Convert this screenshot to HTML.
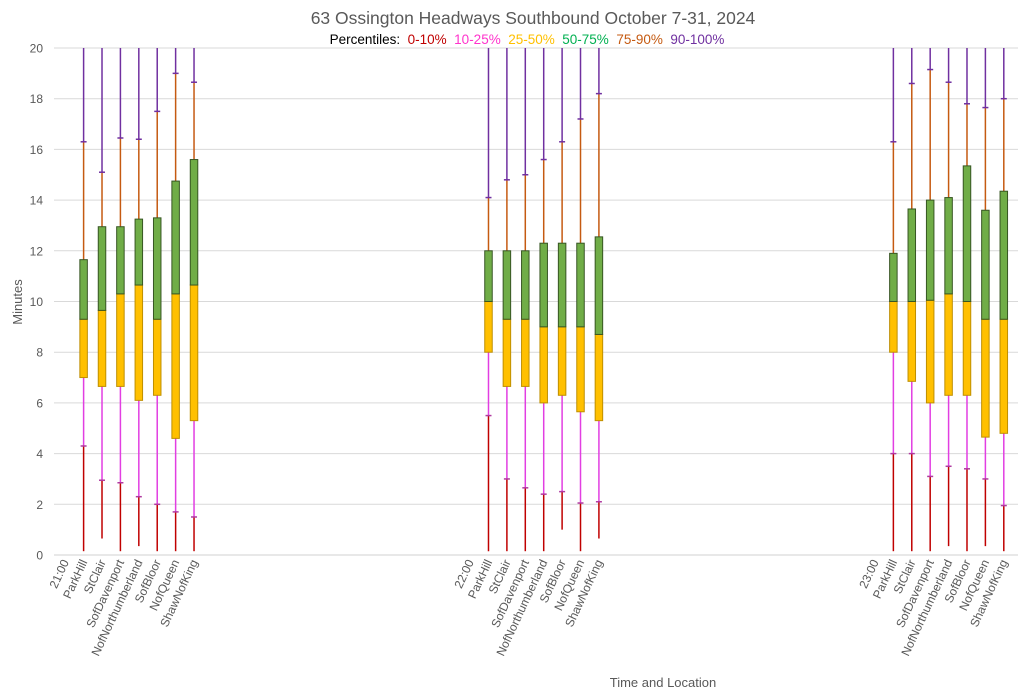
<!DOCTYPE html>
<html><head><meta charset="utf-8">
<style>
body{margin:0;background:#fff;}
svg{display:block;font-family:"Liberation Sans",Calibri,sans-serif;}
</style></head>
<body>
<svg id="chart" width="1024" height="697" viewBox="0 0 1024 697">
<text x="533" y="24" text-anchor="middle" font-size="17.5" fill="#595959">63 Ossington Headways Southbound October 7-31, 2024</text>
<text x="527" y="44" text-anchor="middle" font-size="13.5">
<tspan fill="#000">Percentiles:&#160; </tspan><tspan fill="#c00000">0-10%</tspan><tspan fill="#ff33cc">&#160; 10-25%</tspan><tspan fill="#ffc000">&#160; 25-50%</tspan><tspan fill="#00b050">&#160; 50-75%</tspan><tspan fill="#c55a11">&#160; 75-90%</tspan><tspan fill="#7030a0">&#160; 90-100%</tspan></text>
<text transform="translate(22,302) rotate(-90)" text-anchor="middle" font-size="13" fill="#595959">Minutes</text>
<text x="663" y="687" text-anchor="middle" font-size="13" fill="#595959">Time and Location</text>
<g id="grid"></g><g id="marks"></g><g id="labels"></g>
</svg>
<script>
const stops = ["ParkHill","StClair","SofDavenport","NofNorthumberland","SofBloor","NofQueen","ShawNofKing"];
const hours = ["21:00","22:00","23:00"];
const hourIndex = [0,22,44];
const yTicks = [0,2,4,6,8,10,12,14,16,18,20];
const p0 = [0.15,0.65,0.15,0.35,0.15,0.15,0.15, 0.15,0.15,0.15,0.15,1.0,0.15,0.65, 0.15,0.15,0.15,0.35,0.15,0.35,0.15];
const p10 = [4.3,2.95,2.85,2.3,2.0,1.7,1.5, 5.5,3.0,2.65,2.4,2.5,2.05,2.1, 4.0,4.0,3.1,3.5,3.4,3.0,1.95];
const p25 = [7.0,6.65,6.65,6.1,6.3,4.6,5.3, 8.0,6.65,6.65,6.0,6.3,5.65,5.3, 8.0,6.85,6.0,6.3,6.3,4.65,4.8];
const p50 = [9.3,9.65,10.3,10.65,9.3,10.3,10.65, 10.0,9.3,9.3,9.0,9.0,9.0,8.7, 10.0,10.0,10.05,10.3,10.0,9.3,9.3];
const p75 = [11.65,12.95,12.95,13.25,13.3,14.75,15.6, 12.0,12.0,12.0,12.3,12.3,12.3,12.55, 11.9,13.65,14.0,14.1,15.35,13.6,14.35];
const p90 = [16.3,15.1,16.45,16.4,17.5,19.0,18.65, 14.1,14.8,15.0,15.6,16.3,17.2,18.2, 16.3,18.6,19.15,18.65,17.8,17.65,18.0];
const p100 = [20,20,20,20,20,20,20, 20,20,20,20,20,20,20, 20,20,20,20,20,20,20];

const NS="http://www.w3.org/2000/svg";
const nCat=52, x0=56, x1=1013, yBase=555, yTopPx=48, yMax=20;
const band=(x1-x0)/nCat;
function xPos(i){return x0+band*(i+0.5);}
function yPos(v){return yBase-(Math.min(v,yMax)/yMax)*(yBase-yTopPx);}
function mk(tag,attrs,parent){const e=document.createElementNS(NS,tag);for(const k in attrs)e.setAttribute(k,attrs[k]);parent.appendChild(e);return e;}
const grid=document.getElementById('grid'),marks=document.getElementById('marks'),labels=document.getElementById('labels');

yTicks.forEach(t=>{
  const l=mk('line',{x1:x0-2,x2:1018,y1:yPos(t),y2:yPos(t),stroke:t===0?'#d0d0d0':'#d9d9d9','stroke-width':1},grid);
  
  
  const tx=mk('text',{x:43,y:yPos(t)+4.5,'text-anchor':'end','font-size':12,fill:'#595959'},labels);
  tx.textContent=t;
  
  
});

function catLabel(i,txt,name){
  const x=xPos(i)+4,y=562;
  const t=mk('text',{transform:`translate(${x},${y}) rotate(-65)`,'text-anchor':'end','font-size':12,fill:'#595959'},labels);
  t.textContent=txt;
  
  
}

hours.forEach((h,g)=>{
  const base=hourIndex[g];
  catLabel(base,h,'x-label-hour');
  stops.forEach((s,j)=>{
    const k=g*stops.length+j, i=base+1+j, cx=xPos(i);
    catLabel(i,s,'x-label-stop');
    const grp=mk('g',{},marks);
    
    
    mk('line',{x1:cx,x2:cx,y1:yPos(p0[k]),y2:yPos(p10[k]),stroke:'#c00000','stroke-width':1.5},grp);
    mk('line',{x1:cx,x2:cx,y1:yPos(p10[k]),y2:yPos(p25[k]),stroke:'#e23ee2','stroke-width':1.5},grp);
    mk('line',{x1:cx,x2:cx,y1:yPos(p75[k]),y2:yPos(p90[k]),stroke:'#c55a11','stroke-width':1.5},grp);
    mk('line',{x1:cx,x2:cx,y1:yPos(p90[k]),y2:yPos(p100[k]),stroke:'#7030a0','stroke-width':1.5},grp);
    mk('line',{x1:cx-3,x2:cx+3,y1:yPos(p10[k]),y2:yPos(p10[k]),stroke:'#b03aa0','stroke-width':1.5},grp);
    mk('line',{x1:cx-3,x2:cx+3,y1:yPos(p90[k]),y2:yPos(p90[k]),stroke:'#7030a0','stroke-width':1.5},grp);
    const w=7.5;
    mk('rect',{x:cx-w/2,y:yPos(p50[k]),width:w,height:yPos(p25[k])-yPos(p50[k]),fill:'#ffc000',stroke:'#bf8f00','stroke-width':1},grp);
    mk('rect',{x:cx-w/2,y:yPos(p75[k]),width:w,height:yPos(p50[k])-yPos(p75[k]),fill:'#70ad47',stroke:'#375623','stroke-width':1},grp);
  });
});
</script>
</body></html>
